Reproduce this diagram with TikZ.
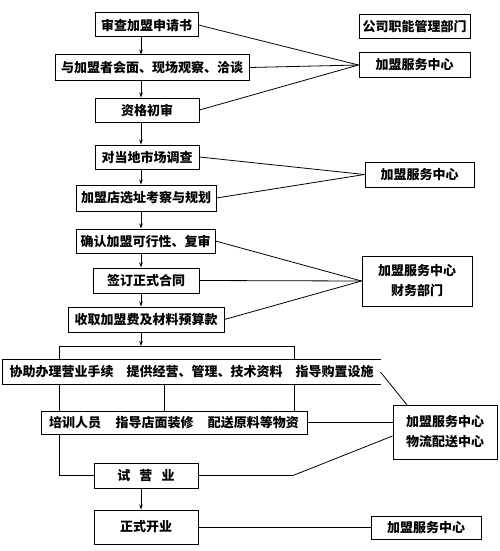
\documentclass[tikz,border=0pt]{standalone}
\usepackage{fontspec}
\setmainfont{Noto Sans CJK SC}
\usetikzlibrary{arrows.meta}
\begin{document}
\begin{tikzpicture}[x=1pt,y=-1pt,
  box/.style={draw,line width=1pt,inner sep=0pt,align=center,font=\fontsize{13}{20}\selectfont\bfseries},
  ln/.style={line width=0.8pt},
  arr/.style={line width=0.8pt,-{Stealth[length=5pt,width=3.5pt]}}]
\useasboundingbox (0,0) rectangle (500,551);
% left column
\node[box,minimum width=103,minimum height=24] (b1) at (146.5,25) {审查加盟申请书};
\node[box,minimum width=194,minimum height=25] (b2) at (152,67.5) {与加盟者会面、现场观察、洽谈};
\node[box,minimum width=104,minimum height=24] (b3) at (147,110) {资格初审};
\node[box,minimum width=104,minimum height=24] (b4) at (147,157) {对当地市场调查};
\node[box,minimum width=140,minimum height=26] (b5) at (146,198) {加盟店选址考察与规划};
\node[box,minimum width=139,minimum height=24] (b6) at (145.5,241) {确认加盟可行性、复审};
\node[box,minimum width=106,minimum height=25] (b7) at (146,280.5) {签订正式合同};
\node[box,minimum width=156,minimum height=25] (b8) at (146,319.5) {收取加盟费及材料预算款};
\node[box,draw=none,minimum width=377,minimum height=24] (b9) at (191.5,372) {协助办理营业手续\hspace{1em}提供经营、管理、技术资料\hspace{1em}指导购置设施};
\draw[line width=1pt] (b9.north east) -- (b9.north west) -- (b9.south west) -- (b9.south east);
\node[box,minimum width=266,minimum height=23] (b10) at (174,422.5) {培训人员\hspace{1.1em}指导店面装修\hspace{1.1em}配送原料等物资};
\node[box,minimum width=104,minimum height=25] (b11) at (146,475.5) {试\hspace{0.7em}营\hspace{0.7em}业};
\node[box,minimum width=104,minimum height=34] (b12) at (146,527) {正式开业};
% right column
\node[box,minimum width=111,minimum height=24] (r0) at (414.5,27) {公司职能管理部门};
\node[box,minimum width=111,minimum height=24] (r1) at (414.5,65) {加盟服务中心};
\node[box,minimum width=109,minimum height=25] (r2) at (419.5,174.5) {加盟服务中心};
\node[box,minimum width=110,minimum height=50] (r3) at (417,281) {加盟服务中心\\财务部门};
\node[box,minimum width=104,minimum height=54] (r4) at (445,432) {加盟服务中心\\物流配送中心};
\node[box,minimum width=110,minimum height=23] (r5) at (426,527.5) {加盟服务中心};
% axis coordinates
\coordinate (ax) at (141,0);
\coordinate (hm) at (141,346);
\coordinate (hl) at (59,346);
\coordinate (hr) at (294,346);
\coordinate (mx) at (164,346);
\coordinate (r4t) at (407,405);
\coordinate (k) at (293,475.5);
% vertical arrows
\draw[arr] (b1.south -| ax) -- (b2.north -| ax);
\draw[arr] (b2.south -| ax) -- (b3.north -| ax);
\draw[arr] (b3.south -| ax) -- (b4.north -| ax);
\draw[arr] (b4.south -| ax) -- (b5.north -| ax);
\draw[arr] (b5.south -| ax) -- (b6.north -| ax);
\draw[arr] (b6.south -| ax) -- (b7.north -| ax);
\draw[arr] (b7.south -| ax) -- (b8.north -| ax);
\draw[arr] (b8.south -| ax) -- (hm);
\draw[arr] (b11.south -| ax) -- (b12.north -| ax);
% branching
\draw[ln] (hl) -- (hr);
\draw[ln] (hl) -- (hl |- b9.north);
\draw[ln] (hr) -- (hr |- b9.north);
\draw[ln] (hl |- b9.south) -- (hl |- b10.north);
\draw[ln] (mx |- b9.south) -- (mx |- b10.north);
\draw[ln] (hr |- b9.south) -- (hr |- b10.north);
\draw[ln] (hl |- b10.south) |- (b11.west);
% connectors to the right column
\draw[ln] (b1.east) -- (r1.west);
\draw[ln] (b2.east) -- (r1.west);
\draw[ln] (b3.east) -- (r1.west);
\draw[ln] (b4.east) -- (r2.west);
\draw[ln] (b5.east) -- (r2.west);
\draw[ln] (b6.east) -- (r3.west);
\draw[ln] (b7.east) -- (r3.west);
\draw[ln] (b8.east) -- (r3.west);
\draw[ln] (b9.east) -- (r4t);
\draw[ln] (b10.east) -- (b10.east -| r4.west);
\draw[ln] (b11.east) -- (k) -- ([yshift=-4pt]r4.west);
\draw[ln] (b12.east) -- (b12.east -| r5.west);
\end{tikzpicture}
\end{document}
